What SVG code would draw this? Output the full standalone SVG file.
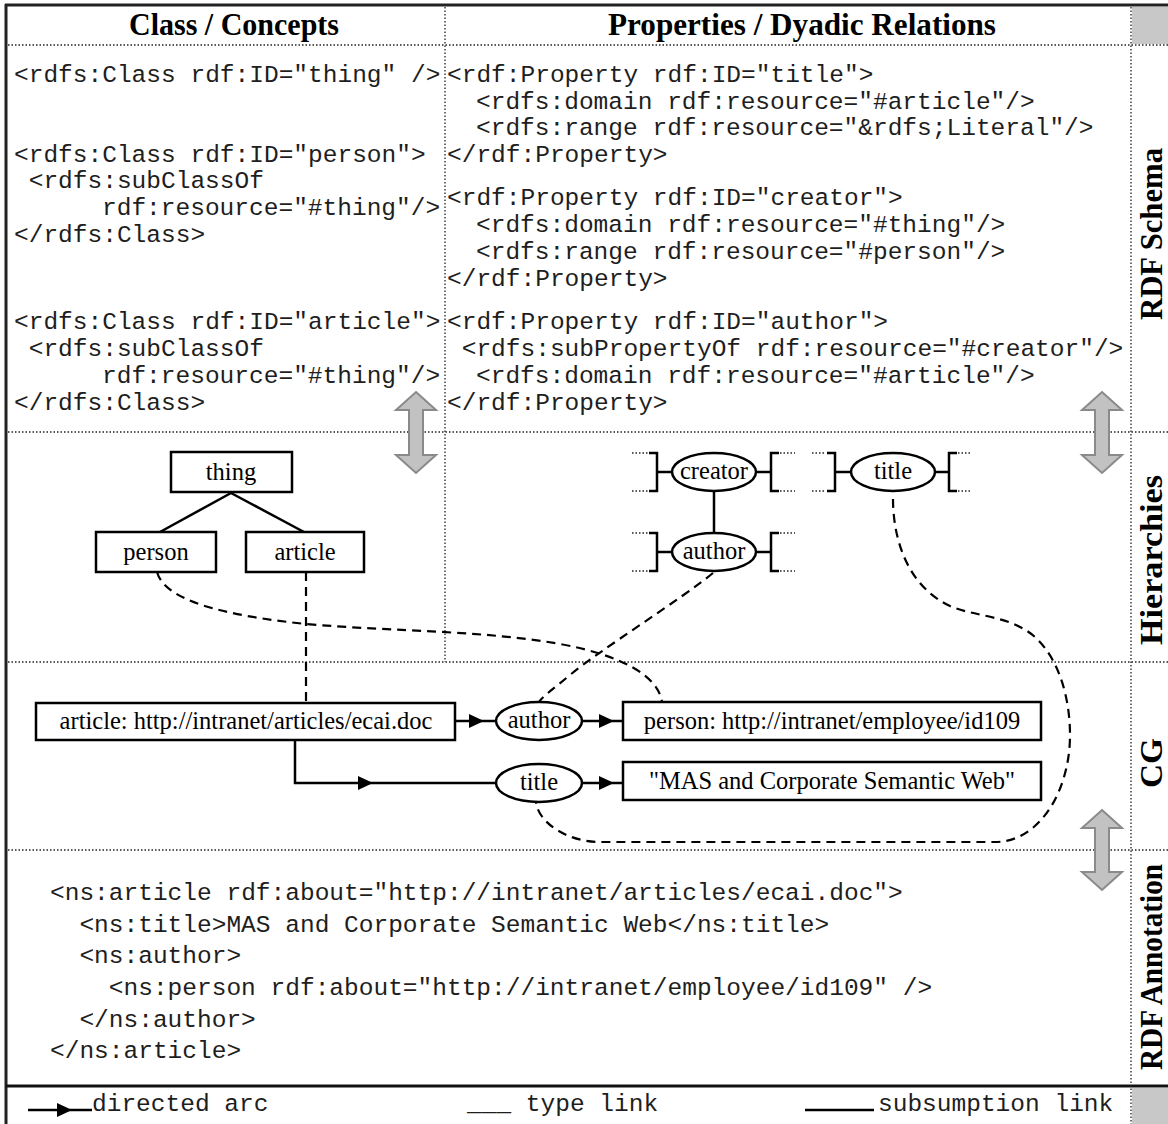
<svg xmlns="http://www.w3.org/2000/svg" width="1168" height="1124" viewBox="0 0 1168 1124">
<defs>
<style>
.code{font-family:"Liberation Mono","Courier New",monospace;font-size:24.5px;fill:#1e1e1e}
.hdr{font-family:"Liberation Serif","Times New Roman",serif;font-size:31px;font-weight:bold;text-anchor:middle;fill:#000}
.lbl{font-family:"Liberation Serif","Times New Roman",serif;font-size:24.5px;text-anchor:middle;fill:#000}
.dot{stroke:#222;stroke-width:1.3;stroke-dasharray:1.5,2;fill:none}
.box{fill:#fff;stroke:#000;stroke-width:2.5}
.arc{stroke:#000;stroke-width:2.5;fill:none}
.type{stroke:#000;stroke-width:2.2;stroke-dasharray:9,6;fill:none}
.gray{fill:#c2c2c2;stroke:#8a8a8a;stroke-width:2}
.ell{fill:#fff;stroke:#000;stroke-width:2.5}
</style>
<marker id="ah" markerUnits="userSpaceOnUse" markerWidth="16" markerHeight="14" viewBox="0 0 16 14" refX="15" refY="7" orient="auto"><path d="M0,0 L15,7 L0,14 z" fill="#000"/></marker>
</defs>
<rect x="0" y="0" width="1168" height="1124" fill="#fff"/>

<g id="frame">
<rect x="1132" y="7" width="36" height="37" fill="#c8c8c8"/>
<rect x="1132" y="1088" width="36" height="36" fill="#c8c8c8"/>
<line x1="5" y1="5" x2="1168" y2="5" stroke="#222" stroke-width="3"/>
<line x1="6" y1="4" x2="6" y2="1124" stroke="#222" stroke-width="3"/>
<line x1="6" y1="1086" x2="1168" y2="1086" stroke="#111" stroke-width="3"/>
<line class="dot" x1="8" y1="45" x2="1168" y2="45"/>
<line class="dot" x1="8" y1="432" x2="1168" y2="432"/>
<line class="dot" x1="8" y1="662" x2="1168" y2="662"/>
<line class="dot" x1="8" y1="850" x2="1168" y2="850"/>
<line class="dot" x1="445" y1="7" x2="445" y2="662"/>
<line class="dot" x1="1131" y1="7" x2="1131" y2="1124"/>
</g>

<g id="headers">
<text class="hdr" x="234" y="35" textLength="210" lengthAdjust="spacingAndGlyphs">Class / Concepts</text>
<text class="hdr" x="802" y="35" textLength="388" lengthAdjust="spacingAndGlyphs">Properties / Dyadic Relations</text>
<text class="hdr" transform="translate(1162,234) rotate(-90)" x="0" y="0" textLength="172" lengthAdjust="spacingAndGlyphs">RDF Schema</text>
<text class="hdr" transform="translate(1162,560) rotate(-90)" x="0" y="0" textLength="170" lengthAdjust="spacingAndGlyphs">Hierarchies</text>
<text class="hdr" transform="translate(1162,763) rotate(-90)" x="0" y="0" textLength="50" lengthAdjust="spacingAndGlyphs">CG</text>
<text class="hdr" transform="translate(1162,967) rotate(-90)" x="0" y="0" textLength="206" lengthAdjust="spacingAndGlyphs">RDF Annotation</text>
</g>

<g id="schema-classes" class="code">
<text x="14" y="82">&lt;rdfs:Class rdf:ID="thing" /&gt;</text>
<text x="14" y="162">&lt;rdfs:Class rdf:ID="person"&gt;</text>
<text x="28.7" y="188">&lt;rdfs:subClassOf</text>
<text x="102" y="215">rdf:resource="#thing"/&gt;</text>
<text x="14" y="242">&lt;/rdfs:Class&gt;</text>
<text x="14" y="329">&lt;rdfs:Class rdf:ID="article"&gt;</text>
<text x="28.7" y="356">&lt;rdfs:subClassOf</text>
<text x="102" y="383">rdf:resource="#thing"/&gt;</text>
<text x="14" y="410">&lt;/rdfs:Class&gt;</text>
</g>

<g id="schema-properties" class="code">
<text x="447" y="82">&lt;rdf:Property rdf:ID="title"&gt;</text>
<text x="476" y="109">&lt;rdfs:domain rdf:resource="#article"/&gt;</text>
<text x="476" y="135">&lt;rdfs:range rdf:resource="&amp;rdfs;Literal"/&gt;</text>
<text x="447" y="162">&lt;/rdf:Property&gt;</text>
<text x="447" y="205">&lt;rdf:Property rdf:ID="creator"&gt;</text>
<text x="476" y="232">&lt;rdfs:domain rdf:resource="#thing"/&gt;</text>
<text x="476" y="259">&lt;rdfs:range rdf:resource="#person"/&gt;</text>
<text x="447" y="286">&lt;/rdf:Property&gt;</text>
<text x="447" y="329">&lt;rdf:Property rdf:ID="author"&gt;</text>
<text x="461.7" y="356">&lt;rdfs:subPropertyOf rdf:resource="#creator"/&gt;</text>
<text x="476" y="383">&lt;rdfs:domain rdf:resource="#article"/&gt;</text>
<text x="447" y="410">&lt;/rdf:Property&gt;</text>
</g>

<g id="gray-arrows">
<polygon class="gray" points="416,392 436,410 423,410 423,455 436,455 416,473 396,455 409,455 409,410 396,410"/>
<polygon class="gray" points="1102,392 1122,410 1109,410 1109,455 1122,455 1102,473 1082,455 1095,455 1095,410 1082,410"/>
<polygon class="gray" points="1102,810 1122,828 1109,828 1109,872 1122,872 1102,890 1082,872 1095,872 1095,828 1082,828"/>
</g>

<g id="connectors">
<line class="arc" x1="231" y1="493" x2="160" y2="532"/>
<line class="arc" x1="231" y1="493" x2="304" y2="532"/>
<line class="arc" x1="714" y1="491" x2="714" y2="533"/>
<path class="type" d="M157,572 C165,600 220,615 306,624 C400,632 480,630 560,644 C620,655 658,675 662,702"/>
<path class="type" d="M306,572 L306,702"/>
<path class="type" d="M713,573 C680,600 600,650 570,675 C552,690 542,697 539,702"/>
<path class="type" d="M893,499 C893,535 905,585 950,606 C975,617 1010,615 1035,637 C1060,660 1070,700 1070,735 C1070,790 1040,842 995,842 L600,842 C570,842 540,825 536,803"/>
<path class="arc" d="M456,721 H484" marker-end="url(#ah)"/>
<path class="arc" d="M484,721 H497"/>
<path class="arc" d="M582,721 H614" marker-end="url(#ah)"/>
<path class="arc" d="M614,721 H623"/>
<path class="arc" d="M295,740 V783 H373" marker-end="url(#ah)"/>
<path class="arc" d="M373,783 H497"/>
<path class="arc" d="M582,783 H614" marker-end="url(#ah)"/>
<path class="arc" d="M614,783 H623"/>
</g>

<g id="node-thing"><rect class="box" x="171" y="452" width="121" height="40"/><text class="lbl" x="231" y="480">thing</text></g>
<g id="node-person"><rect class="box" x="96" y="532" width="120" height="40"/><text class="lbl" x="156" y="560">person</text></g>
<g id="node-article"><rect class="box" x="246" y="532" width="118" height="40"/><text class="lbl" x="305" y="560">article</text></g>

<g id="rel-creator">
<path class="arc" d="M649,453 H657 V491 H649 M657,472 H672"/>
<path class="dot" d="M632,453 H648 M632,491 H648"/>
<path class="arc" d="M756,472 H771 M779,453 H771 V491 H779"/>
<path class="dot" d="M780,453 H795 M780,491 H795"/>
<ellipse class="ell" cx="714" cy="472" rx="42" ry="19"/>
<text class="lbl" x="714" y="479">creator</text>
</g>
<g id="rel-author">
<path class="arc" d="M649,533 H657 V571 H649 M657,552 H672"/>
<path class="dot" d="M632,533 H648 M632,571 H648"/>
<path class="arc" d="M756,552 H771 M779,533 H771 V571 H779"/>
<path class="dot" d="M780,533 H795 M780,571 H795"/>
<ellipse class="ell" cx="714" cy="552" rx="42" ry="19"/>
<text class="lbl" x="714" y="559">author</text>
</g>
<g id="rel-title">
<path class="arc" d="M827,453 H835 V491 H827 M835,472 H851"/>
<path class="dot" d="M812,453 H826 M812,491 H826"/>
<path class="arc" d="M934,472 H949 M957,453 H949 V491 H957"/>
<path class="dot" d="M958,453 H972 M958,491 H972"/>
<ellipse class="ell" cx="893" cy="472" rx="42" ry="19"/>
<text class="lbl" x="893" y="479">title</text>
</g>

<g id="cg-article"><rect class="box" x="36" y="703" width="419" height="37"/><text class="lbl" x="246" y="729">article: http://intranet/articles/ecai.doc</text></g>
<g id="cg-author"><ellipse class="ell" cx="539" cy="721" rx="43" ry="19"/><text class="lbl" x="539" y="728">author</text></g>
<g id="cg-person"><rect class="box" x="623" y="702" width="418" height="38"/><text class="lbl" x="832" y="729">person: http://intranet/employee/id109</text></g>
<g id="cg-title"><ellipse class="ell" cx="539" cy="783" rx="43" ry="19"/><text class="lbl" x="539" y="790">title</text></g>
<g id="cg-literal"><rect class="box" x="623" y="762" width="418" height="38"/><text class="lbl" x="832" y="789">"MAS and Corporate Semantic Web"</text></g>

<g id="annotation" class="code">
<text x="50" y="900">&lt;ns:article rdf:about="http://intranet/articles/ecai.doc"&gt;</text>
<text x="79.4" y="932">&lt;ns:title&gt;MAS and Corporate Semantic Web&lt;/ns:title&gt;</text>
<text x="79.4" y="963">&lt;ns:author&gt;</text>
<text x="108.8" y="995">&lt;ns:person rdf:about="http://intranet/employee/id109" /&gt;</text>
<text x="79.4" y="1027">&lt;/ns:author&gt;</text>
<text x="50" y="1058">&lt;/ns:article&gt;</text>
</g>

<g id="legend">
<path class="arc" d="M28,1110 H72" marker-end="url(#ah)"/>
<path class="arc" d="M72,1110 H92"/>
<text class="code" x="92" y="1111">directed arc</text>
<text class="code" x="467" y="1111">___ type link</text>
<line class="arc" x1="805" y1="1110" x2="874" y2="1110"/>
<text class="code" x="878" y="1111">subsumption link</text>
</g>
</svg>
